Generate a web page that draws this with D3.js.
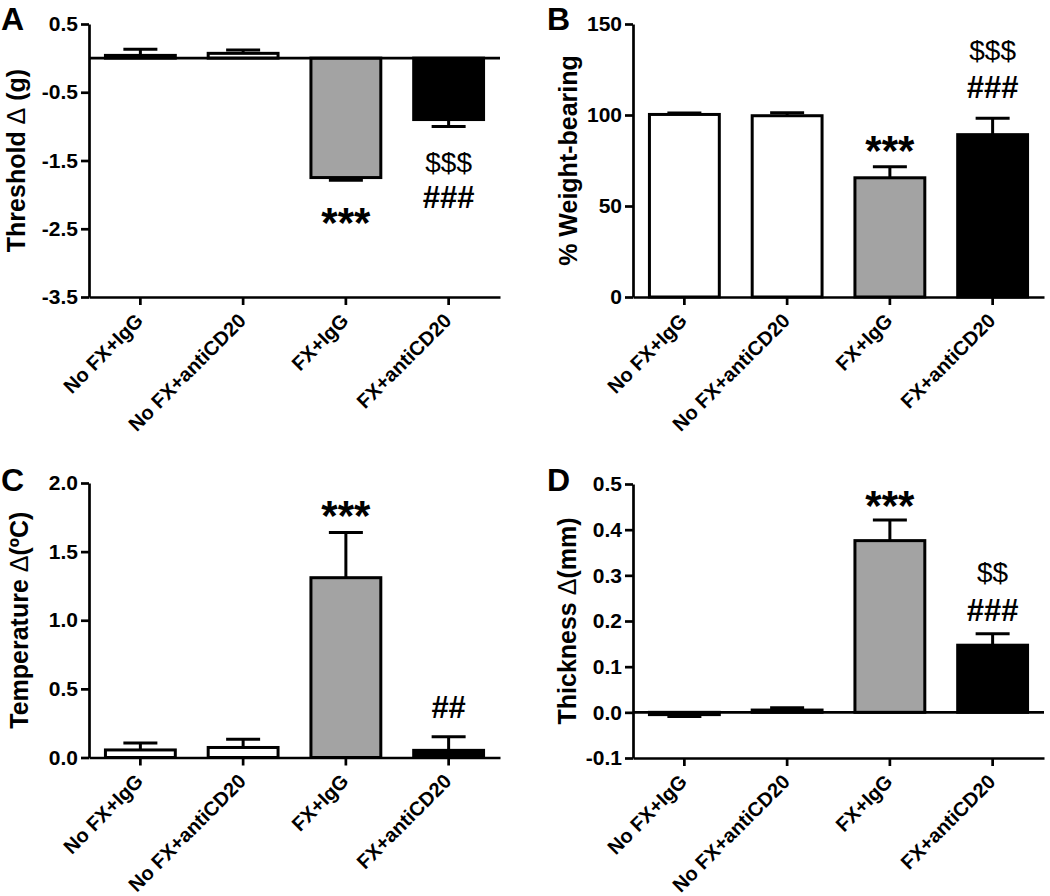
<!DOCTYPE html>
<html>
<head>
<meta charset="utf-8">
<script src="https://cdn.jsdelivr.net/npm/d3@7"></script>
<style>
  html, body { margin: 0; padding: 0; background: #fff; }
  svg { display: block; }
  text { font-family: "Liberation Sans", Arial, Helvetica, sans-serif; }
</style>
</head>
<body>
<svg id="chart" width="1050" height="896"></svg>
<script>
// ---------------- data ----------------
const categories = ["No FX+IgG", "No FX+antiCD20", "FX+IgG", "FX+antiCD20"];
const barFills = ["#ffffff", "#ffffff", "#a3a3a3", "#000000"];

const thresholdMean = [0.04, 0.07, -1.75, -0.90];
const thresholdErr  = [0.09, 0.05, 0.04, 0.10];
const thresholdTicks = [0.5, -0.5, -1.5, -2.5, -3.5];

const weightMean = [100.3, 99.6, 65.5, 89.2];
const weightErr  = [0.8, 1.7, 6.0, 9.0];
const weightTicks = [0, 50, 100, 150];

const tempMean = [0.055, 0.073, 1.31, 0.052];
const tempErr  = [0.05, 0.06, 0.33, 0.10];
const tempTicks = [0.0, 0.5, 1.0, 1.5, 2.0];

const thickMean = [-0.005, 0.005, 0.376, 0.147];
const thickErr  = [0.004, 0.005, 0.045, 0.025];
const thickTicks = [-0.1, 0.0, 0.1, 0.2, 0.3, 0.4, 0.5];

// annotations: [category index, text, value (data units, glyph centre), kind]
const thresholdNotes = [[2, "***", -2.26, "star"], [3, "$$$", -1.52, "dollar"], [3, "###", -2.04, "hash"]];
const weightNotes    = [[2, "***", 86.3, "star"], [3, "###", 115.4, "hash"], [3, "$$$", 135.7, "dollar"]];
const tempNotes      = [[2, "***", 1.84, "star"], [3, "##", 0.37, "hash"]];
const thickNotes     = [[2, "***", 0.476, "star"], [3, "$$", 0.308, "dollar"], [3, "###", 0.224, "hash"]];

// ---------------- layout ----------------
const svg = d3.select("#chart");
const fmtHyphen = f => v => f(v).replace("\u2212", "-");

const panels = [
  { letter: "A", lx: 1, ly: 30, x0: 89, x1: 500, yTop: 24, yBot: 297,
    domain: [-3.5, 0.5], ticks: thresholdTicks, fmt: fmtHyphen(d3.format(".1f")),
    mean: thresholdMean, err: thresholdErr, notes: thresholdNotes,
    label: ["Threshold ", "\u0394", " (g)"], labelX: 16, zeroLine: true },
  { letter: "B", lx: 547, ly: 30, x0: 633, x1: 1044, yTop: 24, yBot: 297,
    domain: [0, 150], ticks: weightTicks, fmt: d3.format("d"),
    mean: weightMean, err: weightErr, notes: weightNotes,
    label: ["% Weight-bearing", "", ""], labelX: 568, zeroLine: false },
  { letter: "C", lx: 1, ly: 491, x0: 89, x1: 500, yTop: 483, yBot: 757.5,
    domain: [0, 2], ticks: tempTicks, fmt: d3.format(".1f"),
    mean: tempMean, err: tempErr, notes: tempNotes,
    label: ["Temperature ", "\u0394", "(\u00BAC)"], labelX: 19, zeroLine: false },
  { letter: "D", lx: 547, ly: 491, x0: 633, x1: 1044, yTop: 484, yBot: 758,
    domain: [-0.1, 0.5], ticks: thickTicks, fmt: fmtHyphen(d3.format(".1f")),
    mean: thickMean, err: thickErr, notes: thickNotes,
    label: ["Thickness ", "\u0394", "(mm)"], labelX: 567, zeroLine: true }
];

const AX = 2.7;      // axis stroke width
const BAR_SW = 3;    // bar stroke width
const CAP = 34;      // error-bar cap width

panels.forEach(p => {
  const g = svg.append("g");
  const x = d3.scaleBand().domain(categories).range([p.x0, p.x1])
    .paddingInner(0.32).paddingOuter(0.16);
  const y = d3.scaleLinear().domain(p.domain).range([p.yBot, p.yTop]);

  // panel letter
  g.append("text").attr("x", p.lx).attr("y", p.ly)
    .attr("font-size", 32).attr("font-weight", "bold").text(p.letter);

  // y-axis label
  const lab = g.append("text")
    .attr("transform", `translate(${p.labelX},${(p.yTop + p.yBot) / 2}) rotate(-90)`)
    .attr("text-anchor", "middle").attr("dominant-baseline", "central")
    .attr("font-size", 25).attr("font-weight", "bold");
  lab.append("tspan").text(p.label[0]);
  if (p.label[1]) lab.append("tspan").attr("font-weight", "normal").text(p.label[1]);
  if (p.label[2]) lab.append("tspan").text(p.label[2]);

  // bars
  const data = categories.map((c, i) => ({ c, i, v: p.mean[i], e: p.err[i] }));
  // error bars (drawn before bars so bar covers stem)
  data.forEach(d => {
    const cx = x(d.c) + x.bandwidth() / 2;
    const tip = d.v >= 0 ? d.v + d.e : d.v - d.e;
    g.append("line").attr("x1", cx).attr("x2", cx)
      .attr("y1", y(d.v)).attr("y2", y(tip))
      .attr("stroke", "#000").attr("stroke-width", 3);
    g.append("line").attr("x1", cx - CAP / 2).attr("x2", cx + CAP / 2)
      .attr("y1", y(tip)).attr("y2", y(tip))
      .attr("stroke", "#000").attr("stroke-width", 3);
  });
  g.selectAll("rect.bar").data(data).join("rect")
    .attr("class", "bar")
    .attr("x", d => x(d.c))
    .attr("width", x.bandwidth())
    .attr("y", d => Math.min(y(d.v), y(0)))
    .attr("height", d => Math.abs(y(d.v) - y(0)))
    .attr("fill", (d, i) => barFills[i])
    .attr("stroke", "#000").attr("stroke-width", BAR_SW);

  // zero line
  if (p.zeroLine) {
    g.append("line").attr("x1", p.x0).attr("x2", p.x1)
      .attr("y1", y(0)).attr("y2", y(0))
      .attr("stroke", "#000").attr("stroke-width", AX);
  }

  // y axis
  const yAxis = g.append("g").attr("transform", `translate(${p.x0},0)`)
    .call(d3.axisLeft(y).tickValues(p.ticks).tickFormat(p.fmt)
      .tickSize(8).tickSizeOuter(0).tickPadding(3));
  yAxis.selectAll("path,line").attr("stroke", "#000").attr("stroke-width", AX);
  yAxis.selectAll("text").attr("font-size", 21).attr("font-weight", "bold")
    .attr("fill", "#000").attr("font-family", null);

  // x axis
  const xAxis = g.append("g").attr("transform", `translate(0,${p.yBot})`)
    .call(d3.axisBottom(x).tickSize(8).tickSizeOuter(0));
  xAxis.selectAll("path,line").attr("stroke", "#000").attr("stroke-width", AX);
  xAxis.selectAll("text")
    .attr("font-size", 20).attr("font-weight", "bold").attr("fill", "#000")
    .attr("font-family", null)
    .attr("x", 0).attr("y", 0).attr("dy", 0)
    .attr("text-anchor", "end")
    .attr("transform", "translate(4,25) rotate(-45)");

  // annotations
  p.notes.forEach(([ci, txt, val, kind]) => {
    const cx = x(categories[ci]) + x.bandwidth() / 2;
    const t = g.append("text").attr("x", cx).attr("y", y(val))
      .attr("text-anchor", "middle").attr("dominant-baseline", "central")
      .attr("fill", "#000").text(txt);
    if (kind === "star") t.attr("font-size", 42).attr("font-weight", "bold").attr("dy", "0.24em");
    else if (kind === "hash") t.attr("font-size", 31).attr("font-weight", "bold").attr("dy", "0.02em");
    else t.attr("font-size", 28).attr("font-weight", "normal").attr("dy", "0.02em");
  });
});
</script>
</body>
</html>
